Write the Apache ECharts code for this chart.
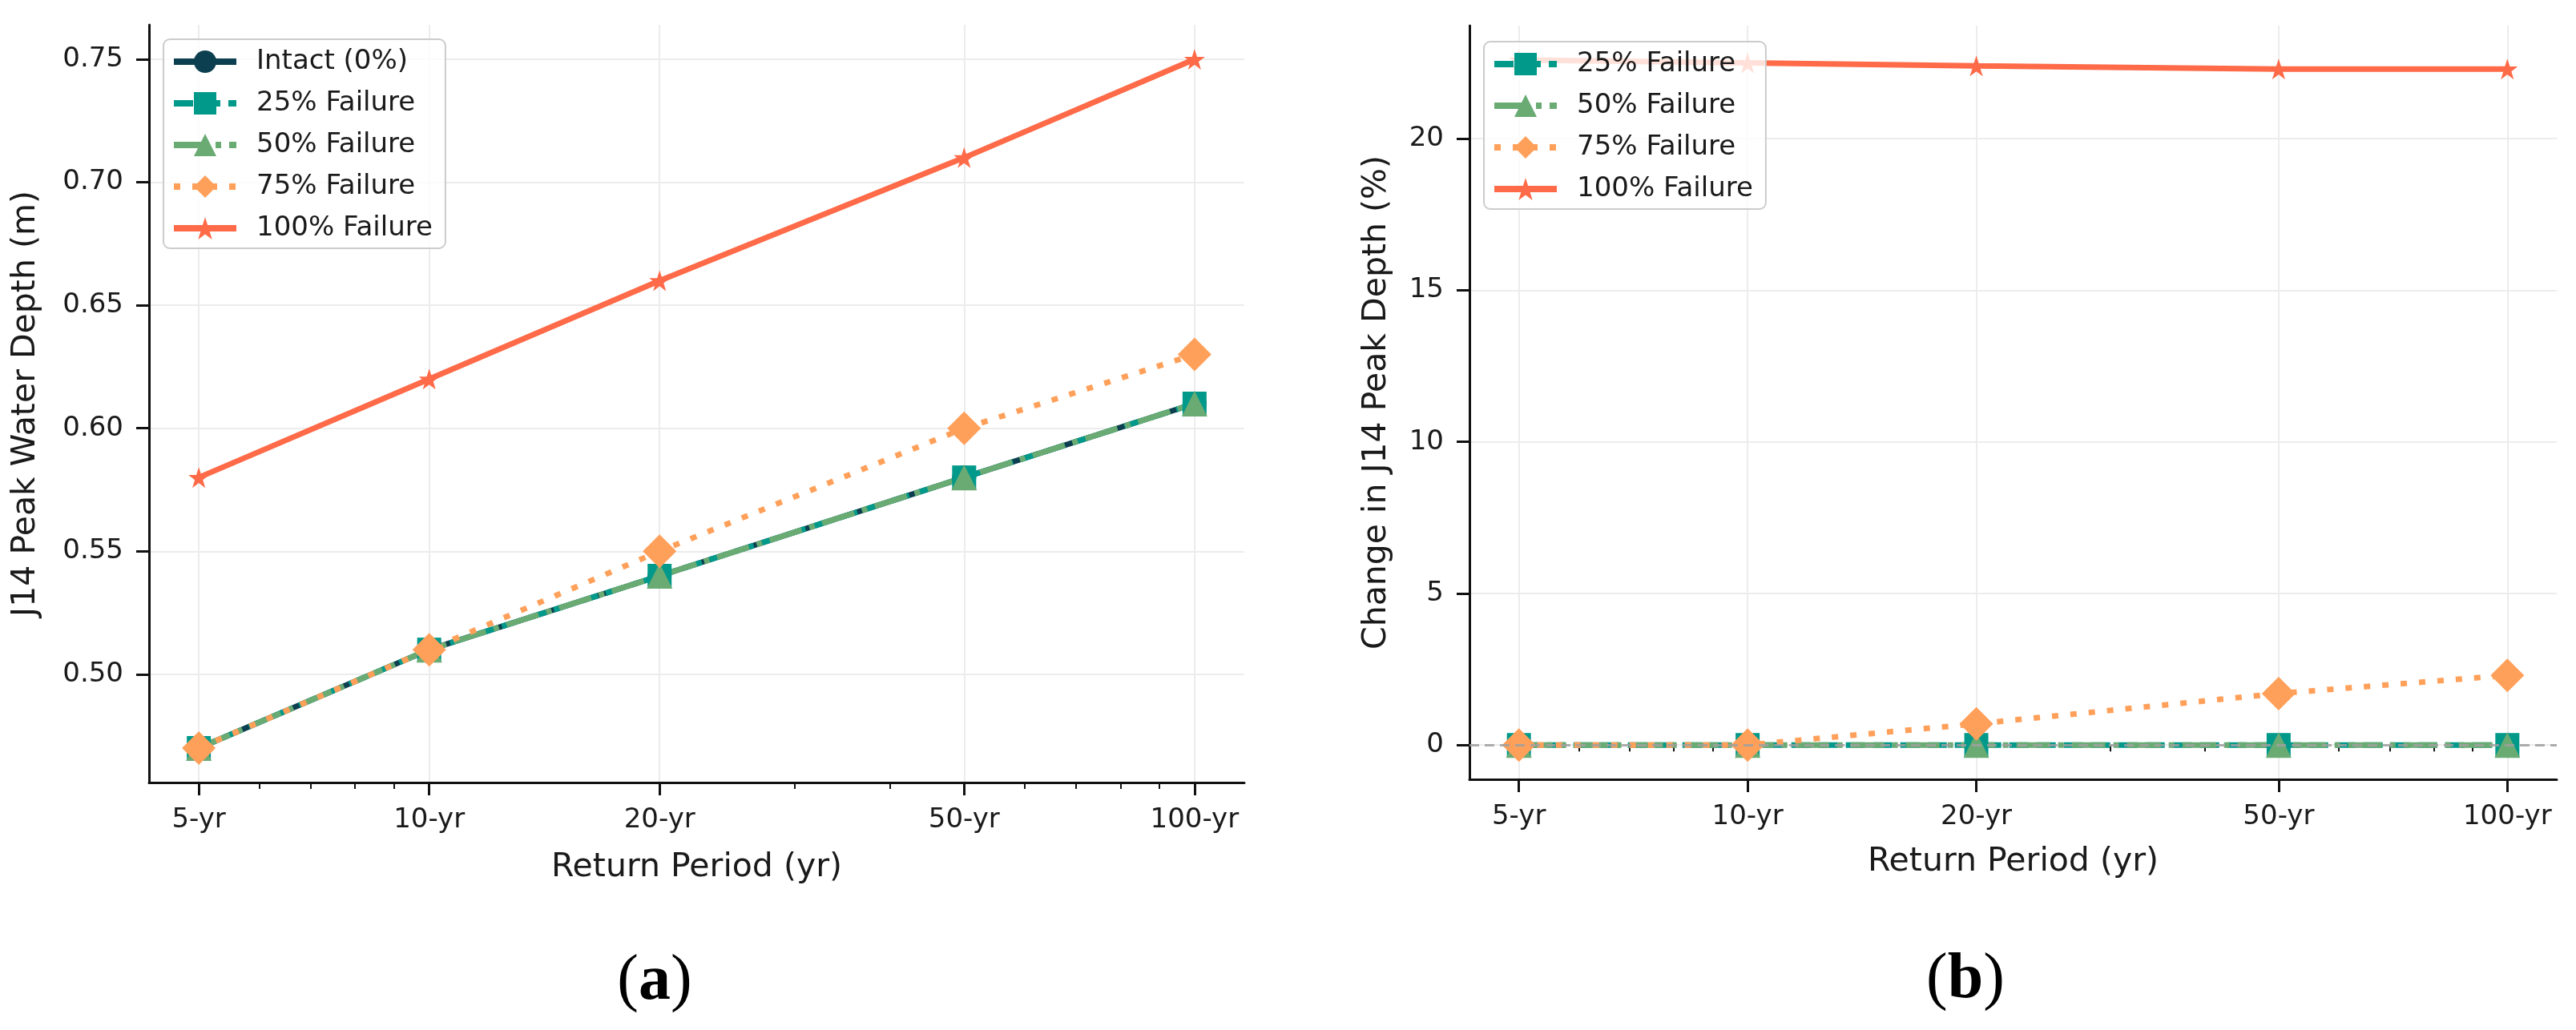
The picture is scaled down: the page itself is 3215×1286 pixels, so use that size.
<!DOCTYPE html>
<html>
<head>
<meta charset="utf-8">
<title>J14 peak water depth vs return period</title>
<script src="https://cdn.jsdelivr.net/npm/echarts@6/dist/echarts.min.js"></script>
<style>
  html, body { margin: 0; padding: 0; background: #fff; }
  #main { width: 3215px; height: 1286px; }
</style>
</head>
<body>
<div id="main"></div>
<script>
const periods = [5, 10, 20, 50, 100];
const periodLabels = ['5-yr', '10-yr', '20-yr', '50-yr', '100-yr'];
const minorPeriods = [6, 7, 8, 9, 30, 40, 60, 70, 80, 90];

// (a) J14 peak water depth, m
const depthIntact = [0.47, 0.51, 0.54, 0.58, 0.61];
const depth25 = [0.47, 0.51, 0.54, 0.58, 0.61];
const depth50 = [0.47, 0.51, 0.54, 0.58, 0.61];
const depth75 = [0.47, 0.51, 0.55, 0.60, 0.63];
const depth100 = [0.58, 0.62, 0.66, 0.71, 0.75];
const depthTicks = [0.50, 0.55, 0.60, 0.65, 0.70, 0.75];

// (b) change in J14 peak depth vs intact, %
const change25 = [0, 0, 0, 0, 0];
const change50 = [0, 0, 0, 0, 0];
const change75 = [0, 0, 0.7, 1.7, 2.3];
const change100 = [22.6, 22.5, 22.4, 22.3, 22.3];
const changeTicks = [0, 5, 10, 15, 20];

const FONT = 'DejaVu Sans';
const INK = '#1a1a1a';
const STAR = 'path://M50,0 L61.8,35.3 L98.9,35.3 L69,57.2 L80.3,92.7 L50,70.8 L19.7,92.7 L31,57.2 L1.1,35.3 L38.2,35.3 Z';

const styles = {
  'Intact (0%)':  { color: '#0c3f4f', type: 'solid', symbol: 'circle', size: 30 },
  '25% Failure':  { color: '#00998a', type: [24, 10], symbol: 'rect', size: 30 },
  '50% Failure':  { color: '#6aab74', type: [42, 10, 7, 10], symbol: 'triangle', size: 32 },
  '75% Failure':  { color: '#ffa05a', type: [8, 15], symbol: 'diamond', size: 42 },
  '100% Failure': { color: '#ff6a48', type: 'solid', symbol: STAR, size: 26 }
};

// matplotlib style 5% margins on a log axis
const lgMin = Math.log10(periods[0]), lgMax = Math.log10(periods[periods.length - 1]);
const xMin = Math.pow(10, lgMin - 0.05 * (lgMax - lgMin));
const xMax = Math.pow(10, lgMax + 0.05 * (lgMax - lgMin));

function periodLabel(v) {
  let best = 0;
  periods.forEach((p, i) => { if (Math.abs(p - v) < Math.abs(periods[best] - v)) best = i; });
  return periodLabels[best];
}

function periodAxis(gridIndex, nameGap) {
  return {
    type: 'log', logBase: 10, gridIndex: gridIndex, min: xMin, max: xMax, position: 'bottom',
    name: 'Return Period (yr)', nameLocation: 'middle', nameGap: nameGap,
    nameTextStyle: { fontSize: 41, color: INK, fontFamily: FONT },
    axisLine: { show: true, onZero: false, lineStyle: { color: '#111', width: 3 } },
    axisTick: { show: true, customValues: periods, length: 16, lineStyle: { color: '#111', width: 3 } },
    axisLabel: { customValues: periods, margin: 30, fontSize: 34, color: INK, fontFamily: FONT, formatter: periodLabel },
    splitLine: { show: true, lineStyle: { color: '#ececec', width: 2 } },
    minorTick: { show: false }, minorSplitLine: { show: false }
  };
}

function minorAxis(gridIndex) {
  return {
    type: 'log', logBase: 10, gridIndex: gridIndex, min: xMin, max: xMax, position: 'bottom', offset: 0,
    axisLine: { show: false },
    axisTick: { show: true, customValues: minorPeriods, length: 8, lineStyle: { color: '#111', width: 2 } },
    axisLabel: { show: false },
    splitLine: { show: false }
  };
}

function valueAxis(gridIndex, min, max, ticks, name, nameGap, fmt) {
  return {
    type: 'value', gridIndex: gridIndex, min: min, max: max,
    name: name, nameLocation: 'middle', nameGap: nameGap,
    nameTextStyle: { fontSize: 41, color: INK, fontFamily: FONT },
    axisLine: { show: true, onZero: false, lineStyle: { color: '#111', width: 3 } },
    axisTick: { show: true, customValues: ticks, length: 16, lineStyle: { color: '#111', width: 3 } },
    axisLabel: { customValues: ticks, margin: 32, fontSize: 34, color: INK, fontFamily: FONT, formatter: fmt },
    splitLine: { show: true, lineStyle: { color: '#ececec', width: 2 } }
  };
}

function makeSeries(name, values, axisIndex) {
  const s = styles[name];
  return {
    name: name, type: 'line', xAxisIndex: axisIndex, yAxisIndex: axisIndex,
    data: periods.map((p, i) => [p, values[i]]),
    symbol: s.symbol, symbolSize: s.size,
    itemStyle: { color: s.color, borderWidth: 0 },
    lineStyle: { color: s.color, width: 7, type: s.type, cap: 'butt' },
    emphasis: { disabled: true }
  };
}

function legendBox(left, top, names) {
  return {
    orient: 'vertical', left: left, top: top, data: names,
    itemWidth: 78, itemHeight: 35, itemGap: 18,
    padding: [11, 16, 8, 9],
    backgroundColor: 'rgba(255,255,255,0.8)', borderColor: '#cccccc', borderWidth: 2, borderRadius: 8,
    textStyle: { fontSize: 34, color: INK, fontFamily: FONT, padding: [0, 0, 0, 20] },
    lineStyle: { width: 8 },
    selectedMode: false
  };
}

const changeSeries = [
  makeSeries('25% Failure', change25, 1),
  makeSeries('50% Failure', change50, 1),
  makeSeries('75% Failure', change75, 1),
  makeSeries('100% Failure', change100, 1)
];
// grey zero reference line on (b)
changeSeries[3].markLine = {
  silent: true, symbol: 'none', label: { show: false },
  lineStyle: { color: '#a0a0a0', type: [12, 7], width: 3, opacity: 0.85 },
  data: [{ yAxis: 0 }]
};

const chart = echarts.init(document.getElementById('main'));
chart.setOption({
  animation: false,
  backgroundColor: '#ffffff',
  grid: [
    { left: 186, top: 31, width: 1367, height: 946 },
    { left: 1834, top: 32, width: 1357, height: 941 }
  ],
  xAxis: [periodAxis(0, 86), periodAxis(1, 83), minorAxis(0), minorAxis(1)],
  yAxis: [
    valueAxis(0, 0.456, 0.764, depthTicks, 'J14 Peak Water Depth (m)', 133, v => v.toFixed(2)),
    valueAxis(1, -1.13, 23.73, changeTicks, 'Change in J14 Peak Depth (%)', 95, v => String(Math.round(v)))
  ],
  legend: [
    legendBox(204, 49, ['Intact (0%)', '25% Failure', '50% Failure', '75% Failure', '100% Failure']),
    legendBox(1852, 52, ['25% Failure', '50% Failure', '75% Failure', '100% Failure'])
  ],
  series: [
    makeSeries('Intact (0%)', depthIntact, 0),
    makeSeries('25% Failure', depth25, 0),
    makeSeries('50% Failure', depth50, 0),
    makeSeries('75% Failure', depth75, 0),
    makeSeries('100% Failure', depth100, 0)
  ].concat(changeSeries),
  graphic: [
    {
      type: 'text', x: 817, y: 1226,
      style: {
        text: '{p|(}{b|a}{p|)}', align: 'center', verticalAlign: 'middle',
        rich: {
          p: { fontFamily: 'Liberation Serif', fontSize: 80, fill: '#000' },
          b: { fontFamily: 'Liberation Serif', fontSize: 80, fontWeight: 'bold', fill: '#000' }
        }
      }
    },
    {
      type: 'text', x: 2453, y: 1224,
      style: {
        text: '{p|(}{b|b}{p|)}', align: 'center', verticalAlign: 'middle',
        rich: {
          p: { fontFamily: 'Liberation Serif', fontSize: 80, fill: '#000' },
          b: { fontFamily: 'Liberation Serif', fontSize: 80, fontWeight: 'bold', fill: '#000' }
        }
      }
    }
  ]
});
</script>
</body>
</html>
